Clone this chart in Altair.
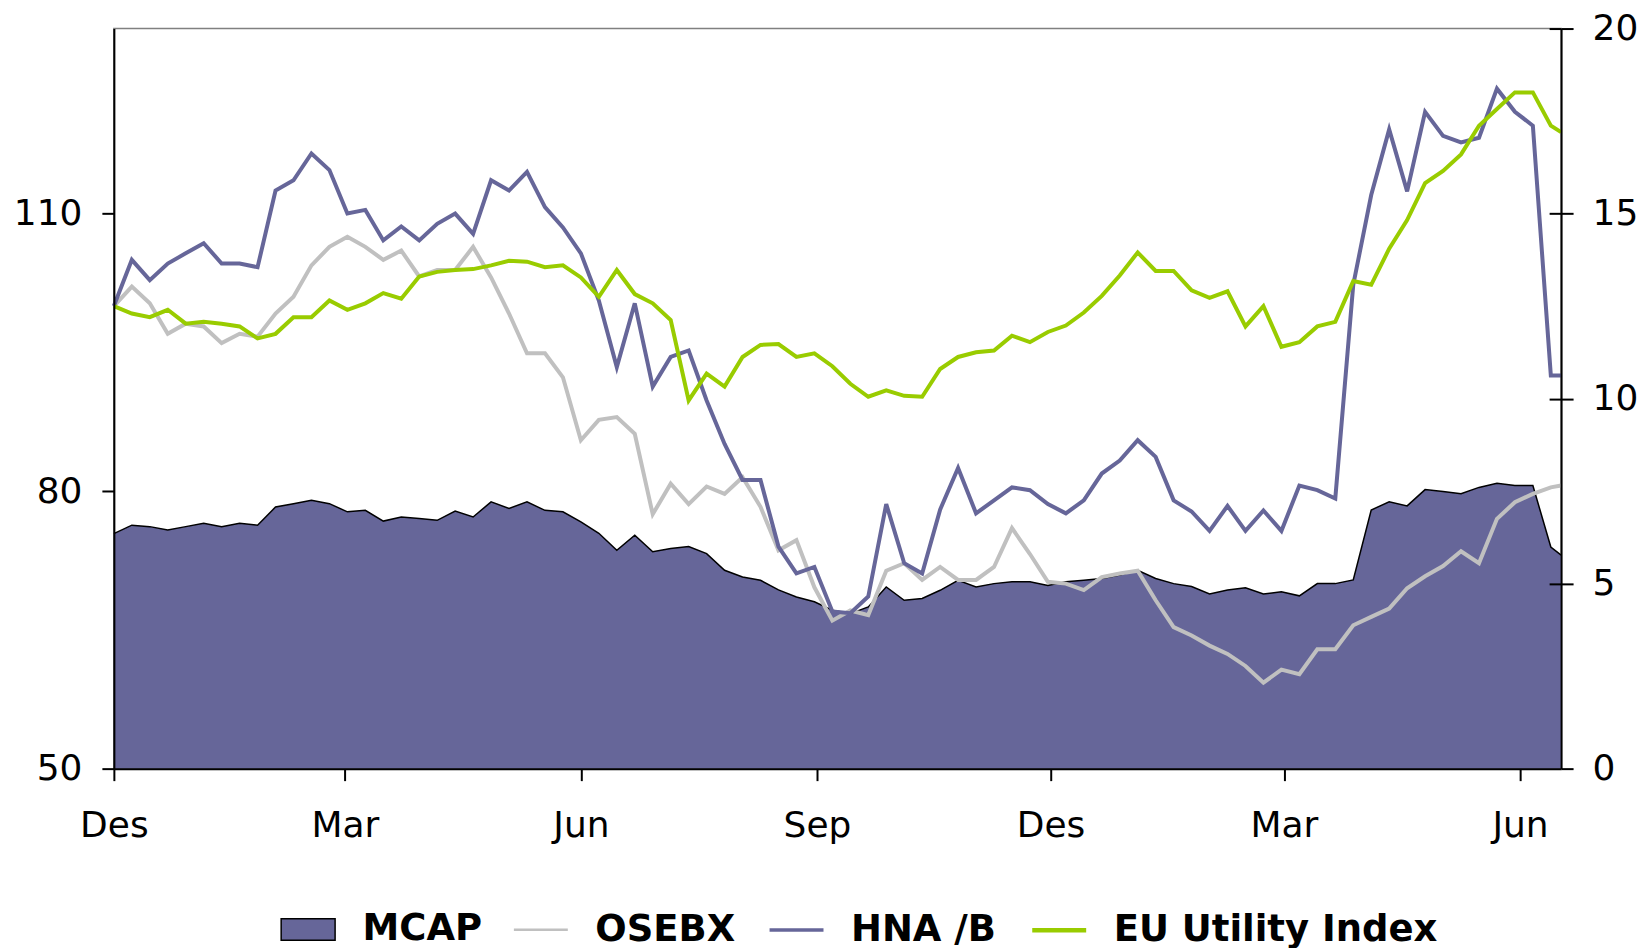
import altair as alt
import pandas as pd

# weekly observation dates (Fridays from 1 Dec 2006) plus final day
dates = list(pd.date_range("2006-12-01", periods=81, freq="7D").strftime("%Y-%m-%d")) + ["2008-06-17"]

# MCAP (right axis, 0-20)
mcap = [6.35, 6.58, 6.54, 6.45, 6.54, 6.63, 6.54, 6.63, 6.58, 7.07,
        7.16, 7.25, 7.16, 6.94, 6.98, 6.69, 6.80, 6.76, 6.71, 6.96,
        6.80, 7.21, 7.03, 7.21, 6.98, 6.94, 6.67, 6.36, 5.90, 6.31,
        5.86, 5.95, 6.00, 5.81, 5.36, 5.18, 5.09, 4.83, 4.64, 4.51,
        4.28, 4.19, 4.37, 4.91, 4.55, 4.60, 4.82, 5.09, 4.91, 5.00,
        5.05, 5.05, 4.95, 5.05, 5.09, 5.14, 5.23, 5.36, 5.14, 5.00,
        4.92, 4.72, 4.83, 4.89, 4.72, 4.78, 4.67, 5.00, 5.00, 5.10,
        6.99, 7.21, 7.10, 7.54, 7.49, 7.43, 7.60, 7.71, 7.65, 7.65,
        5.99, 5.77]

# OSEBX (left axis, rebased)
osebx = [100.0, 102.1, 100.3, 97.0, 98.1, 97.8, 96.0, 97.0, 96.7, 99.2,
         101.0, 104.4, 106.4, 107.5, 106.4, 105.0, 106.0, 103.2, 103.9, 103.9,
         106.4, 103.1, 99.2, 94.9, 94.9, 92.3, 85.5, 87.7, 88.0, 86.2,
         77.5, 80.8, 78.6, 80.5, 79.7, 81.5, 78.3, 73.6, 74.7, 69.6,
         66.0, 67.1, 66.6, 71.4, 72.2, 70.4, 71.8, 70.4, 70.4, 71.8,
         76.0, 73.2, 70.2, 70.0, 69.3, 70.7, 71.1, 71.4, 68.2, 65.3,
         64.4, 63.3, 62.4, 61.1, 59.3, 60.7, 60.2, 62.9, 62.9, 65.5,
         66.4, 67.3, 69.5, 70.8, 71.9, 73.5, 72.2, 77.0, 78.8, 79.7,
         80.4, 80.6]

# HNA /B (left axis, rebased)
hna = [100.0, 105.0, 102.8, 104.6, 105.7, 106.8, 104.6, 104.6, 104.2, 112.5,
       113.6, 116.5, 114.7, 110.0, 110.4, 107.1, 108.6, 107.1, 108.9, 110.0,
       107.8, 113.6, 112.5, 114.5, 110.7, 108.5, 105.7, 100.6, 93.4, 100.3,
       91.3, 94.5, 95.2, 89.8, 85.1, 81.2, 81.2, 74.0, 71.1, 71.8,
       67.0, 66.8, 68.6, 78.6, 72.2, 71.1, 78.0, 82.5, 77.6, 79.0,
       80.4, 80.1, 78.6, 77.6, 79.0, 81.9, 83.3, 85.5, 83.7, 79.0,
       77.8, 75.7, 78.4, 75.7, 77.9, 75.7, 80.6, 80.1, 79.2, 102.3,
       112.0, 119.1, 112.4, 121.0, 118.4, 117.7, 118.2, 123.5, 121.0, 119.5,
       92.5, 92.5]

# EU Utility Index (left axis, rebased)
eu = [100.0, 99.2, 98.8, 99.6, 98.1, 98.3, 98.1, 97.8, 96.5, 97.0,
      98.8, 98.8, 100.6, 99.6, 100.3, 101.4, 100.8, 103.2, 103.7, 103.9,
      104.0, 104.4, 104.9, 104.8, 104.2, 104.4, 103.1, 101.0, 103.9, 101.3,
      100.3, 98.5, 89.8, 92.7, 91.3, 94.5, 95.8, 95.9, 94.5, 94.9,
      93.5, 91.6, 90.2, 90.9, 90.3, 90.2, 93.2, 94.5, 95.0, 95.2,
      96.8, 96.1, 97.2, 97.9, 99.3, 101.1, 103.3, 105.8, 103.8, 103.8,
      101.7, 100.9, 101.6, 97.8, 100.0, 95.6, 96.1, 97.8, 98.3, 102.7,
      102.3, 106.2, 109.3, 113.3, 114.6, 116.4, 119.5, 121.3, 123.1, 123.1,
      119.5, 118.8]

series_names = ["MCAP", "OSEBX", "HNA /B", "EU Utility Index"]
series_fill = ["#666699", "#C0C0C0", "#666699", "#99CC00"]
series_stroke = ["black", "#C0C0C0", "#666699", "#99CC00"]
series_shape = ["M-1,-0.4H1V0.4H-1Z", "stroke", "stroke", "stroke"]
series_width = [1.5, 4.5, 4.5, 4.5]

left_ticks = [50, 80, 110]
right_ticks = [0, 5, 10, 15, 20]
month_labels = ["Jan", "Feb", "Mar", "Apr", "Mai", "Jun", "Jul", "Aug", "Sep", "Okt", "Nov", "Des"]
tick_months = [(2006, 12), (2007, 3), (2007, 6), (2007, 9), (2007, 12), (2008, 3), (2008, 6)]

df = pd.DataFrame({"date": dates, "MCAP": mcap, "OSEBX": osebx, "HNA": hna, "EU": eu})
leg_df = pd.DataFrame({"series": series_names, "date": [dates[0]] * 4, "v": [-5] * 4})

W, H = 1449, 741
FONT = "DejaVu Sans"

x_enc = alt.X(
    "date:T",
    scale=alt.Scale(type="utc", domain=[alt.DateTime(year=2006, month=12, date=1, utc=True),
                                        alt.DateTime(year=2008, month=6, date=17, utc=True)]),
    axis=alt.Axis(
        values=[alt.DateTime(year=y, month=m, date=1, utc=True) for y, m in tick_months],
        labelExpr="%s[utcmonth(datum.value)]" % str(month_labels),
        title=None, tickSize=12, labelPadding=28, grid=False, zindex=1,
    ),
)

base = alt.Chart(df)

area = base.mark_area(
    color="#666699", opacity=1, line=alt.OverlayMarkDef(color="black", strokeWidth=1.5)
).encode(
    x=x_enc,
    y=alt.Y("MCAP:Q", scale=alt.Scale(domain=[0, 20], nice=False),
            axis=alt.Axis(orient="right", values=right_ticks, title=None, tickSize=12,
                          labelPadding=19, grid=False, zindex=1)),
)


def y_left(field):
    return alt.Y(f"{field}:Q", scale=alt.Scale(domain=[50, 130], nice=False, zero=False),
                 axis=alt.Axis(orient="left", values=left_ticks, title=None, tickSize=12,
                               labelPadding=20, grid=False, zindex=1))


LW = 4
l_os = base.mark_line(color="#C0C0C0", strokeWidth=LW).encode(x=x_enc, y=y_left("OSEBX"))
l_hna = base.mark_line(color="#666699", strokeWidth=LW).encode(x=x_enc, y=y_left("HNA"))
l_eu = base.mark_line(color="#99CC00", strokeWidth=LW).encode(x=x_enc, y=y_left("EU"))
lines = alt.layer(l_os, l_hna, l_eu)

leg = alt.Legend(title=None, orient="none", legendX=165, legendY=873, direction="horizontal",
                 columns=4, labelFont=FONT, labelFontSize=37, labelFontWeight="bold",
                 labelColor="black", symbolSize=2916, symbolStrokeWidth=4.5,
                 labelOffset=25, columnPadding=26, padding=0, labelLimit=1000)

dummy = alt.Chart(leg_df).mark_point(filled=True, opacity=1, clip=True).encode(
    x=x_enc,
    y=alt.Y("v:Q", scale=alt.Scale(domain=[0, 20], nice=False),
            axis=alt.Axis(orient="right", offset=-12, values=right_ticks[1:], labels=False,
                          domain=False, tickSize=12, title=None, grid=False, zindex=1)),
    fill=alt.Fill("series:N", scale=alt.Scale(domain=series_names, range=series_fill), legend=leg),
    stroke=alt.Stroke("series:N", scale=alt.Scale(domain=series_names, range=series_stroke), legend=leg),
    shape=alt.Shape("series:N", scale=alt.Scale(domain=series_names, range=series_shape), legend=leg),
    strokeWidth=alt.StrokeWidth("series:N", scale=alt.Scale(domain=series_names, range=series_width), legend=leg),
)

chart = alt.layer(area, lines, dummy).resolve_scale(y="independent").properties(
    width=W, height=H, padding={"left": 5, "top": 2, "right": 0, "bottom": 0}
).configure_view(
    stroke="#808080", strokeWidth=1.5
).configure_axis(
    labelFont=FONT, labelFontSize=36, labelColor="black", domainColor="black",
    tickColor="black", domainWidth=2, tickWidth=2, labelFlush=False, labelOverlap=False
)

chart.save("out.html", embed_options={"renderer": "svg", "actions": False})
